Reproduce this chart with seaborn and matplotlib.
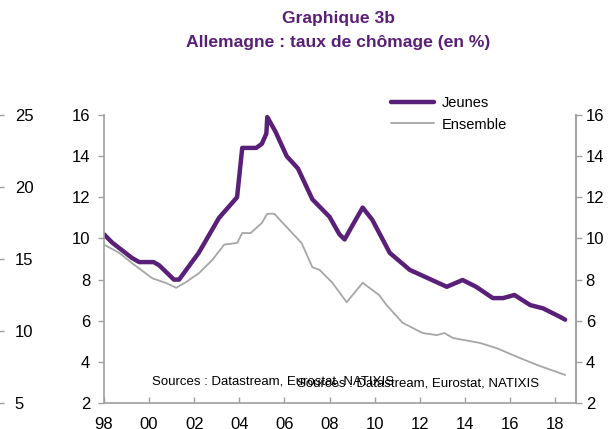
import numpy as np
import pandas as pd
import seaborn as sns
import matplotlib.pyplot as plt

# taux de chômage Allemagne
annees_jeunes = [1998.0, 1998.36, 1999.24, 1999.56, 2000.2, 2000.44, 2001.1, 2001.33, 2002.2,
                 2003.1, 2003.9, 2004.13, 2004.75, 2005.0, 2005.2, 2005.24, 2005.6, 2006.1,
                 2006.6, 2007.24, 2008.0, 2008.44, 2008.67, 2009.0, 2009.47, 2009.9, 2010.67,
                 2011.56, 2012.3, 2013.2, 2013.9, 2014.5, 2015.24, 2015.7, 2016.2, 2016.9,
                 2017.47, 2018.2, 2018.45]
jeunes = [10.2, 9.8, 9.05, 8.85, 8.85, 8.7, 8.0, 8.0, 9.3,
          11.0, 12.0, 14.4, 14.4, 14.6, 15.1, 15.9, 15.2, 14.0,
          13.4, 11.9, 11.05, 10.2, 9.95, 10.6, 11.5, 10.9, 9.3,
          8.47, 8.1, 7.65, 7.98, 7.65, 7.1, 7.1, 7.25, 6.76,
          6.6, 6.2, 6.05]

annees_ensemble = [1998.0, 1998.67, 1999.24, 2000.13, 2000.76, 2001.2, 2001.64, 2002.2, 2002.8,
                   2003.33, 2003.9, 2004.13, 2004.5, 2005.0, 2005.24, 2005.55, 2006.1, 2006.76,
                   2007.24, 2007.56, 2008.13, 2008.76, 2009.47, 2010.2, 2010.53, 2011.24,
                   2012.13, 2012.76, 2013.1, 2013.47, 2014.67, 2015.4, 2016.44, 2017.2,
                   2018.2, 2018.45]
ensemble = [9.7, 9.3, 8.8, 8.07, 7.83, 7.6, 7.88, 8.3, 8.95,
            9.7, 9.78, 10.26, 10.26, 10.75, 11.2, 11.2, 10.55, 9.78,
            8.6, 8.47, 7.84, 6.9, 7.84, 7.25, 6.76, 5.9,
            5.4, 5.3, 5.4, 5.16, 4.92, 4.67, 4.19, 3.85,
            3.46, 3.36]

x_ticks = [1998, 2000, 2002, 2004, 2006, 2008, 2010, 2012, 2014, 2016, 2018]
x_labels = ['98', '00', '02', '04', '06', '08', '10', '12', '14', '16', '18']
y_ticks = [2, 4, 6, 8, 10, 12, 14, 16]
ghost_ticks = [5, 10, 15, 20, 25]

violet = '#5a1f78'
gris = '#a6a6a6'
axe = '#a0a0a0'

sns.set_style('white')
plt.rcParams['font.family'] = ['Liberation Sans', 'DejaVu Sans']

df = pd.concat([
    pd.DataFrame({'annee': annees_jeunes, 'taux': jeunes, 'serie': 'Jeunes'}),
    pd.DataFrame({'annee': annees_ensemble, 'taux': ensemble, 'serie': 'Ensemble'}),
])

fig = plt.figure(figsize=(6.11, 4.29), dpi=100)
W, H = 611, 429
ax = fig.add_axes([104 / W, 1 - 403 / H, (576 - 104) / W, (403 - 115) / H])

sns.lineplot(data=df[df.serie == 'Jeunes'], x='annee', y='taux', color=violet,
             linewidth=3.2, ax=ax, label='Jeunes')
sns.lineplot(data=df[df.serie == 'Ensemble'], x='annee', y='taux', color=gris,
             linewidth=1.3, ax=ax, label='Ensemble')

ax.set_xlim(1998, 2018.93)
ax.set_ylim(2, 16)
ax.set_xticks(x_ticks)
ax.set_xticklabels(x_labels)
ax.set_yticks(y_ticks)
ax.set_xlabel('')
ax.set_ylabel('')
ax.spines['top'].set_visible(False)
for s in ['left', 'bottom', 'right']:
    ax.spines[s].set_color(axe)
    ax.spines[s].set_linewidth(1.2)
ax.tick_params(axis='y', direction='out', length=4, width=1, color=axe, pad=6,
               labelsize=12, left=True, labelcolor='black')
ax.tick_params(axis='x', direction='in', length=4, width=1, color=axe, pad=10,
               labelsize=12, bottom=True, labelcolor='black')

# axe de droite (même échelle)
ax2 = ax.twinx()
ax2.set_ylim(2, 16)
ax2.set_yticks(y_ticks)
for s in ['top', 'left', 'bottom']:
    ax2.spines[s].set_visible(False)
ax2.spines['right'].set_color(axe)
ax2.spines['right'].set_linewidth(1.2)
ax2.tick_params(axis='y', direction='out', length=4, width=1, color=axe, pad=3,
                labelsize=12, right=True, labelcolor='black')
ax2.grid(False)

# reste d'un axe du graphique voisin, à gauche
ax3 = fig.add_axes([-0.3, 1 - 403 / H, 0.297, (403 - 115) / H])
ax3.set_ylim(5, 25)
ax3.set_yticks(ghost_ticks)
ax3.set_xticks([])
ax3.patch.set_alpha(0)
for s in ['top', 'left', 'bottom']:
    ax3.spines[s].set_visible(False)
ax3.spines['right'].set_color(axe)
ax3.yaxis.tick_right()
ax3.tick_params(axis='y', direction='out', length=4, width=1, color=axe, pad=8,
                labelsize=12, right=True, labelcolor='black')

leg = ax.legend(loc='upper left', bbox_to_anchor=(384 / W, 1 - 89 / H),
                bbox_transform=fig.transFigure, frameon=False, fontsize=10.5,
                handlelength=2.9, handletextpad=0.55, labelspacing=0.5, borderpad=0)
for t in leg.get_texts():
    t.set_color('black')

fig.text(338 / W, 1 - 19 / H, 'Graphique 3b', ha='center', va='center',
         fontsize=12.6, fontweight='bold', color=violet)
fig.text(338 / W, 1 - 42 / H, 'Allemagne : taux de chômage (en %)', ha='center',
         va='center', fontsize=12.6, fontweight='bold', color=violet)

fig.text(152 / W, 1 - 382 / H, 'Sources : Datastream, Eurostat, NATIXIS', ha='left',
         va='center', fontsize=9.5, color='black')
fig.text(297 / W, 1 - 384 / H, 'Sources : Datastream, Eurostat, NATIXIS', ha='left',
         va='center', fontsize=9.5, color='black')

fig.savefig('out.png', dpi=100)
